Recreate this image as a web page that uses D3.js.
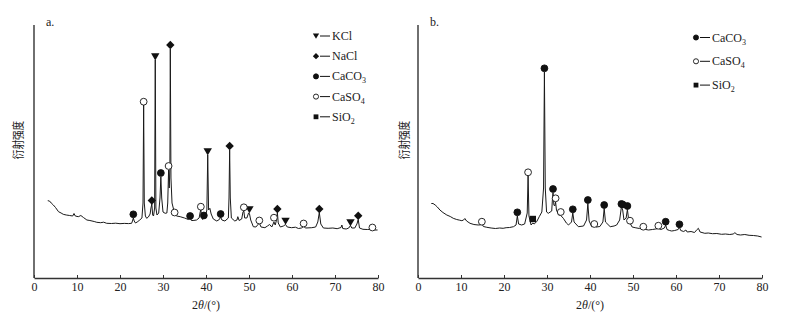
<!DOCTYPE html>
<html>
<head>
<meta charset="utf-8">
<script src="https://cdn.jsdelivr.net/npm/d3@7"></script>
<style>
  body { margin: 0; background: #fff; }
  svg text { font-family: "Liberation Serif", "DejaVu Serif", serif; fill: #222; }
</style>
</head>
<body>
<svg id="chart" width="789" height="317"></svg>
<script>
// 2theta (deg) / intensity (a.u.)
const scanA = [[3.2,77.3],[3.6,77],[4.0,75],[4.5,73],[5.0,70.5],[5.7,66.3],[6.3,65],[6.8,63.7],[7.5,63],[8.3,62.5],[9.0,62],[9.3,64.5],[9.6,62],[10.3,61.3],[10.9,62.5],[11.5,60.5],[12.3,58],[13.0,57.5],[14.0,56.5],[14.6,55.7],[15.5,55.3],[16.2,55.8],[16.9,54.7],[18.0,54.5],[19.0,54.8],[20.0,54.3],[21.0,54.6],[22.0,54.4],[22.7,54.7],[22.9,57],[23.1,60],[23.3,57],[23.6,55],[24.0,56],[24.6,58],[25.1,60],[25.35,75],[25.5,173],[25.65,75],[25.9,62],[26.2,59.7],[26.6,61],[27.0,64],[27.2,70],[27.4,74],[27.6,63],[27.8,62],[28.05,70],[28.2,218],[28.35,70],[28.6,63],[29.0,65],[29.3,80],[29.5,101],[29.7,80],[30.0,66],[30.5,64.7],[30.9,65],[31.1,75],[31.3,108],[31.45,90],[31.6,110],[31.7,229],[31.85,100],[32.1,75],[32.5,68],[32.7,64],[33.2,62],[34.0,61.3],[35.0,60],[35.9,58.5],[36.3,61],[36.6,57.5],[37.0,57.5],[37.8,58],[38.4,60],[38.65,66],[38.8,68],[38.95,62],[39.2,58.5],[39.5,60.5],[39.8,60],[40.2,68],[40.4,123],[40.6,68],[40.9,69.7],[41.2,64],[41.7,59],[42.5,57],[43.1,58.5],[43.4,61],[43.7,58],[44.4,57],[45.2,60],[45.35,80],[45.5,128],[45.65,80],[45.9,60],[46.7,57],[47.2,58],[47.4,61.3],[47.7,57.5],[48.3,59],[48.6,66],[48.8,67],[49.0,60],[49.5,60],[49.9,65],[50.1,64.5],[50.4,58],[51.0,51.3],[51.6,51],[52.0,53],[52.4,55],[52.8,51],[53.7,50.3],[54.3,52],[54.8,53.5],[55.3,51],[55.8,56],[56.1,53],[56.4,58],[56.6,65.5],[56.8,55],[57.3,51],[58.0,52],[58.5,53.5],[58.9,51],[59.9,50.3],[60.8,50.8],[61.5,49.5],[62.2,50],[62.7,51.5],[63.2,50],[64.6,50.3],[65.5,51],[66.0,56],[66.35,65.5],[66.7,54],[67.3,50],[68.4,49.7],[69.5,50],[70.5,49.3],[71.4,50.5],[71.6,53],[71.8,49.5],[72.6,49],[73.2,50],[73.6,52.5],[73.9,50],[74.6,50],[75.1,54],[75.4,58.5],[75.7,50],[76.5,48.7],[77.5,48.5],[78.2,48.7],[78.7,49.5],[79.3,48],[79.9,48]]

const scanB = [[3.1,74.5],[3.5,74.5],[4.0,73],[4.5,71],[5.1,68],[5.8,65.5],[6.7,63],[7.5,61.5],[8.2,59.7],[9.0,58.5],[9.7,57.8],[10.2,57.3],[10.6,58],[10.9,59.5],[11.3,57],[12.1,54.7],[13.0,53.5],[14.0,53],[14.6,53.2],[14.85,54.5],[15.2,51.5],[16.0,50.7],[17.0,50],[18.0,49.5],[19.0,50],[19.8,49.7],[20.5,50.3],[21.3,50.5],[22.2,51.3],[22.8,53],[23.1,62],[23.4,54],[24.1,53],[24.8,54],[25.4,65],[25.6,102],[25.8,62],[26.3,53],[26.7,55],[27.0,54],[27.6,56.3],[28.2,61.3],[28.8,66],[29.2,90],[29.4,206],[29.6,90],[29.9,66],[30.3,64.7],[31.1,67],[31.25,78],[31.4,85],[31.6,73],[31.8,72],[32.0,76],[32.2,68],[32.7,63],[33.2,62.5],[33.8,59.7],[34.5,55],[35.0,53],[35.7,56],[36.0,65],[36.3,56],[37.3,51.3],[38.5,52],[39.2,58],[39.5,74.5],[39.8,57],[40.4,51.3],[41.0,52.5],[41.5,51],[42.3,51.5],[43.0,56],[43.3,69.5],[43.6,56],[44.7,51.3],[45.6,52],[46.2,53],[46.9,58],[47.3,71],[47.6,68],[47.9,58],[48.4,60],[48.7,68.5],[49.0,58],[49.3,55],[49.8,51],[50.5,50.3],[51.5,49.5],[52.4,50],[53.0,48.5],[53.6,48],[54.5,48.5],[55.3,49],[55.9,49.5],[56.5,48.5],[57.3,50],[57.6,53],[57.9,48.5],[58.5,47.5],[59.0,47],[59.7,47.5],[60.5,48.5],[60.8,51],[61.1,47.5],[61.8,46.5],[62.3,48],[62.6,46],[63.5,46.5],[64.3,45.5],[64.9,48.5],[65.2,49.7],[65.6,46],[66.7,44.7],[67.5,45],[68.5,44.3],[69.5,44.5],[70.6,43.7],[71.5,44],[72.5,43.5],[73.3,44],[73.7,45.3],[74.2,43.5],[75.0,43],[76.0,43.5],[77.0,42.7],[78.0,42.5],[79.0,42],[79.9,41]]

// phase markers [2theta, intensity]
const kclA = [[28.2,221.3],[40.4,126.3],[50.1,68.5],[58.5,57],[73.6,55.5]]
const naclA = [[27.4,77.5],[31.7,233],[45.5,132],[56.6,69],[66.35,69],[75.4,62.3]]
const caco3A = [[23.1,63.7],[29.5,105],[36.3,62],[39.5,62.5],[43.4,64]]
const caso4A = [[25.5,176.3],[31.3,112],[32.7,65.5],[38.8,71.3],[48.8,70.7],[52.4,57.5],[55.8,60.3],[62.7,54.5],[78.7,50.5]]

const caco3B = [[23.1,65.7],[29.4,209.7],[31.4,89],[36.0,68.7],[39.5,78],[43.3,73],[47.3,74],[47.6,73.5],[48.7,72],[57.6,56.3],[60.8,53.7]]
const caso4B = [[14.85,56.3],[25.6,105.7],[32.0,79.7],[33.2,66],[41.0,54],[49.3,57.3],[52.4,51.3],[55.9,52.3]]
const sio2B = [[26.7,59]]

const xTicks = [0, 10, 20, 30, 40, 50, 60, 70, 80]
// legend entries: [marker, name, subscript]
const legendA = [['tri','KCl',''],['dia','NaCl',''],['dot','CaCO','3'],['ring','CaSO','4'],['sq','SiO','2']]
const legendB = [['dot','CaCO','3'],['ring','CaSO','4'],['sq','SiO','2']]

const svg = d3.select('#chart')

function marker(sel, type, k) {
  // k scales the glyph (legend uses smaller ones)
  if (type == 'dot' || type == 'ring') {
    sel.append('circle').attr('r', 3.4 * k)
      .attr('fill', type == 'dot' ? '#111' : '#fff')
      .attr('stroke', '#111').attr('stroke-width', 0.9)
  } else if (type == 'tri') {
    const s = 4.2 * k
    sel.append('path').attr('d', `M${-s},${-s*0.8}L${s},${-s*0.8}L0,${s*0.9}Z`).attr('fill', '#111')
  } else if (type == 'dia') {
    const s = 4.2 * k
    sel.append('path').attr('d', `M0,${-s}L${s},0L0,${s}L${-s},0Z`).attr('fill', '#111')
  } else if (type == 'sq') {
    const s = 3.2 * k
    sel.append('rect').attr('x', -s).attr('y', -s).attr('width', 2*s).attr('height', 2*s).attr('fill', '#111')
  }
}

function drawPanel(cfg) {
  const x = d3.scaleLinear().domain([0, 80]).range([cfg.left, cfg.left + 344])
  const y = d3.scaleLinear().domain([0, 253]).range([278, 25])
  const g = svg.append('g')

  // axes
  g.append('line').attr('x1', cfg.left).attr('x2', cfg.left).attr('y1', 25).attr('y2', 278)
    .attr('stroke', '#333').attr('stroke-width', 1.4)
  const xAxis = d3.axisBottom(x).tickValues(xTicks).tickSize(-3).tickSizeOuter(0).tickPadding(4)
  const ax = g.append('g').attr('transform', 'translate(0,278)').call(xAxis)
  ax.select('.domain').attr('stroke', '#333').attr('stroke-width', 1.4)
  ax.selectAll('.tick line').attr('stroke', '#333')
  ax.selectAll('.tick text').attr('font-size', 12).attr('font-family', '"Liberation Serif", serif').attr('fill', '#222')

  // scan
  const line = d3.line().x(d => x(d[0])).y(d => y(d[1]))
  g.append('path').datum(cfg.scan).attr('d', line)
    .attr('fill', 'none').attr('stroke', '#1a1a1a').attr('stroke-width', 1).attr('stroke-linejoin', 'round')

  // phase markers
  cfg.marks.forEach(m => {
    m.data.forEach(d => {
      const mg = g.append('g').attr('transform', `translate(${x(d[0])},${y(d[1])})`)
      marker(mg, m.type, 1)
    })
  })

  // panel letter
  g.append('text').attr('x', cfg.left + 12).attr('y', 26).attr('font-size', 12).text(cfg.letter)

  // y title
  g.append('text').attr('transform', `translate(${cfg.ylabX},140) rotate(-90) scale(0.8,1)`)
    .attr('text-anchor', 'middle').attr('font-size', 12)
    .style('font-family', '"Noto Sans CJK SC", sans-serif').style('fill', '#222')
    .text('衍射强度')

  // x title
  const xt = g.append('text').attr('x', x(40)).attr('y', 309).attr('text-anchor', 'middle').attr('font-size', 12)
  xt.append('tspan').text('2')
  xt.append('tspan').attr('font-style', 'italic').text('θ')
  xt.append('tspan').text('/(°)')

  // legend
  cfg.legend.forEach((d, i) => {
    const ly = cfg.legY + i * cfg.legStep
    const lg = g.append('g').attr('transform', `translate(${cfg.legX},${ly})`)
    marker(lg, d[0], 0.75)
    lg.append('line').attr('x1', 4).attr('x2', 14).attr('y1', 0).attr('y2', 0)
      .attr('stroke', '#111').attr('stroke-width', 1)
    const t = lg.append('text').attr('x', 16).attr('y', 4).attr('font-size', 12)
    t.append('tspan').text(d[1])
    if (d[2]) t.append('tspan').attr('font-size', 8).attr('dy', 3).text(d[2])
  })
}

drawPanel({
  left: 34, letter: 'a.', ylabX: 23, scan: scanA,
  marks: [{type: 'tri', data: kclA}, {type: 'dia', data: naclA}, {type: 'dot', data: caco3A}, {type: 'ring', data: caso4A}],
  legend: legendA, legX: 316, legY: 36, legStep: 20.2
})
drawPanel({
  left: 418, letter: 'b.', ylabX: 409, scan: scanB,
  marks: [{type: 'dot', data: caco3B}, {type: 'ring', data: caso4B}, {type: 'sq', data: sio2B}],
  legend: legendB, legX: 696, legY: 37.5, legStep: 23.8
})
</script>
</body>
</html>
